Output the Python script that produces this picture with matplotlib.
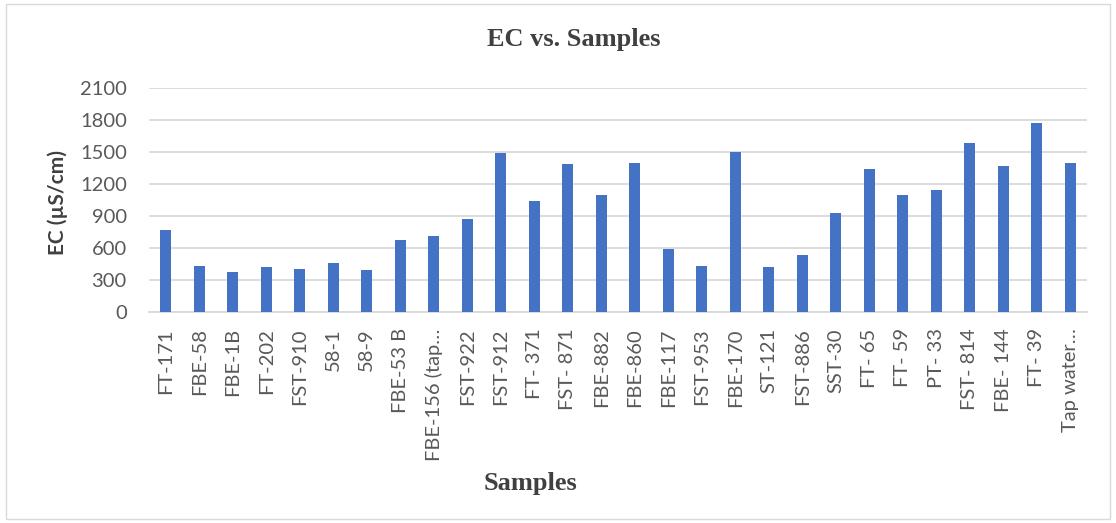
import matplotlib.pyplot as plt
from matplotlib.patches import Rectangle

samples = ["FT-171", "FBE-58", "FBE-1B", "FT-202", "FST-910", "58-1", "58-9",
           "FBE-53 B", "FBE-156 (tap…", "FST-922", "FST-912", "FT- 371",
           "FST- 871", "FBE-882", "FBE-860", "FBE-117", "FST-953", "FBE-170",
           "ST-121", "FST-886", "SST-30", "FT- 65", "FT- 59", "PT- 33",
           "FST- 814", "FBE- 144", "FT- 39", "Tap water…"]
ec = [769, 425, 372, 416, 397, 454, 391, 672, 712, 866, 1485, 1038,
      1382, 1091, 1391, 584, 431, 1500, 422, 531, 922, 1334, 1091, 1138,
      1581, 1369, 1772, 1391]
yticks = [0, 300, 600, 900, 1200, 1500, 1800, 2100]

fig = plt.figure(figsize=(11.16, 5.23), dpi=100)
ax = fig.add_axes([0.1335, 0.404, 0.8405, 0.4283])

x = range(len(samples))
ax.bar(x, ec, width=0.33, color="#4472C4", zorder=3)

ax.set_xlim(-0.5, len(samples) - 0.5)
ax.set_ylim(0, 2100)
ax.set_yticks(yticks)
ax.set_xticks(list(x))
ax.set_xticklabels(samples, rotation=90, family="Lato", fontsize=14.5,
                   color="#595959")
for lab in ax.get_yticklabels():
    lab.set_fontfamily("Lato")
    lab.set_fontsize(14.5)
    lab.set_color("#595959")

ax.grid(axis="y", color="#d9d9d9", linewidth=1.3, zorder=0)
for s in ["top", "right", "left"]:
    ax.spines[s].set_visible(False)
ax.spines["bottom"].set_color("#d9d9d9")
ax.spines["bottom"].set_linewidth(1.3)
ax.tick_params(axis="y", length=0, pad=16)
ax.tick_params(axis="x", length=0, pad=12)

fig.text(0.052, 0.612, "EC (µS/cm)", family="Lato", fontweight="bold",
         fontsize=15, color="#404040", rotation=90, ha="center", va="center")

fig.text(0.514, 0.924, "EC vs. Samples", family="Liberation Serif",
         fontweight="bold", fontsize=19, color="#404040", ha="center", va="center")
fig.text(0.475, 0.076, "Samples", family="Liberation Serif",
         fontweight="bold", fontsize=19, color="#404040", ha="center", va="center")

fig.patches.append(Rectangle((0.005, 0.008), 0.99, 0.984, transform=fig.transFigure,
                             fill=False, edgecolor="#d9d9d9", linewidth=1))

fig.savefig("out.png", dpi=100)
